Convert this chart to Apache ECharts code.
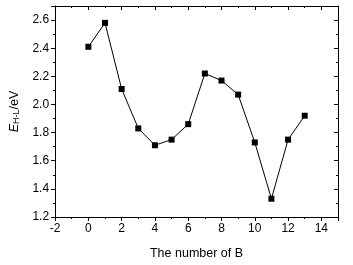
<!DOCTYPE html>
<html>
<head>
<meta charset="utf-8">
<script src="https://cdn.jsdelivr.net/npm/echarts@6/dist/echarts.min.js"></script>
<style>
* { margin: 0; padding: 0; }
html, body { background: #fff; }
#chart { width: 353px; height: 265px; }
</style>
</head>
<body>
<div id="chart"></div>
<script>
// number of B atoms
const numB = [0, 1, 2, 3, 4, 5, 6, 7, 8, 9, 10, 11, 12, 13]
// HOMO-LUMO gap, eV
const gapEv = [2.41, 2.58, 2.11, 1.83, 1.71, 1.75, 1.86, 2.22, 2.17, 2.07, 1.73, 1.33, 1.75, 1.92]

const font = 'Liberation Sans, Arial, sans-serif'
const axisLine = { show: true, onZero: false, lineStyle: { color: '#000', width: 1 } }

const chart = echarts.init(document.getElementById('chart'))
chart.setOption({
    animation: false,
    grid: { left: 54, right: 15, top: 6, bottom: 46 },
    xAxis: [
        {
            type: 'value', min: -2, max: 15, interval: 2,
            axisLine: axisLine,
            axisTick: { show: true, inside: false, length: 4, lineStyle: { color: '#000' } },
            minorTick: { show: true, splitNumber: 2, length: 2, lineStyle: { color: '#000' } },
            axisLabel: { color: '#000', fontFamily: font, fontSize: 12, margin: 6,
                formatter: v => (v > 14 ? '' : v) },
            splitLine: { show: false },
            name: 'The number of B', nameLocation: 'middle', nameGap: 30,
            nameTextStyle: { color: '#000', fontFamily: font, fontSize: 12.5 }
        },
        {
            type: 'value', position: 'top', min: -2, max: 15, interval: 2,
            axisLine: axisLine,
            axisTick: { show: true, inside: true, length: 4, lineStyle: { color: '#000' } },
            minorTick: { show: true, splitNumber: 2, length: 2, lineStyle: { color: '#000' } },
            axisLabel: { show: false }, splitLine: { show: false }
        }
    ],
    yAxis: [
        {
            type: 'value', min: 1.2, max: 2.7, interval: 0.2,
            axisLine: axisLine,
            axisTick: { show: true, inside: false, length: 4, lineStyle: { color: '#000' } },
            minorTick: { show: true, splitNumber: 2, length: 2, lineStyle: { color: '#000' } },
            axisLabel: { color: '#000', fontFamily: font, fontSize: 12, margin: 6,
                formatter: v => (v > 2.65 ? '' : v.toFixed(1)) },
            splitLine: { show: false },
            name: '{e|E}{s|H-L}{u|/eV}', nameLocation: 'middle', nameGap: 33, nameRotate: 90,
            nameTextStyle: {
                color: '#000', fontFamily: font, fontSize: 12.5,
                rich: {
                    e: { fontStyle: 'italic', fontFamily: font, fontSize: 12.5, color: '#000' },
                    s: { fontFamily: font, fontSize: 9, color: '#000', verticalAlign: 'bottom', padding: [5, 0, 0, 0] },
                    u: { fontFamily: font, fontSize: 12.5, color: '#000' }
                }
            }
        },
        {
            type: 'value', position: 'right', min: 1.2, max: 2.7, interval: 0.2,
            axisLine: axisLine,
            axisTick: { show: true, inside: true, length: 4, lineStyle: { color: '#000' } },
            minorTick: { show: true, splitNumber: 2, length: 2, lineStyle: { color: '#000' } },
            axisLabel: { show: false }, splitLine: { show: false }
        }
    ],
    series: [
        {
            type: 'line',
            data: numB.map((n, i) => [n, gapEv[i]]),
            symbol: 'rect', symbolSize: 6,
            itemStyle: { color: '#000' },
            lineStyle: { color: '#000', width: 1 }
        }
    ]
})
</script>
</body>
</html>
